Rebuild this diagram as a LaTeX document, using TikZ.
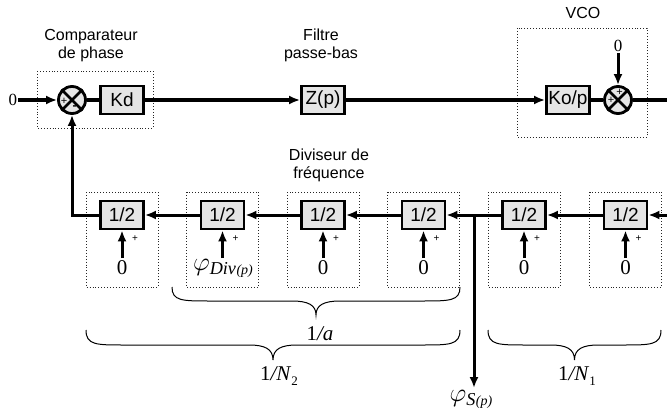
\documentclass[tikz,border=0pt]{standalone}
\usepackage{fontspec}
\usepackage{fix-cm}
\setmainfont{Liberation Serif}
\newfontfamily\lsans{Liberation Sans}
\usetikzlibrary{arrows.meta,calc}
\newcommand{\drawbrace}[4]{%
  \draw[brc] ({#1},{#3}) .. controls ({#1},{(#3+#4)/2}) and ({#1+10},{(#3+#4)/2}) .. ({#1+38},{(#3+#4)/2})
    -- ({(#1+#2)/2-24},{(#3+#4)/2}) .. controls ({(#1+#2)/2-8},{(#3+#4)/2}) and ({(#1+#2)/2},{(#3+#4)/2+4}) .. ({(#1+#2)/2},{#4})
    .. controls ({(#1+#2)/2},{(#3+#4)/2+4}) and ({(#1+#2)/2+8},{(#3+#4)/2}) .. ({(#1+#2)/2+24},{(#3+#4)/2})
    -- ({#2-38},{(#3+#4)/2}) .. controls ({#2-10},{(#3+#4)/2}) and ({#2},{(#3+#4)/2}) .. ({#2},{#3});}
\begin{document}
\begin{tikzpicture}[x=1pt,y=-1pt,
  blk/.style={draw,line width=2.8pt,fill=black!10,minimum width=43pt,minimum height=28pt,inner sep=0pt,font=\lsans\fontsize{19}{21}\selectfont},
  sumc/.style={draw,circle,line width=2.8pt,fill=black!10,minimum size=27pt,inner sep=0pt},
  xline/.style={line width=2.8pt},
  wire/.style={line width=3pt},
  arr/.style={wire,-{Latex[length=11pt,width=9pt]}},
  grp/.style={draw,dotted,line width=0.9pt,black!85},
  lbl/.style={font=\lsans\fontsize{16}{18}\selectfont,align=center},
  zero/.style={font=\fontsize{17}{18}\selectfont,inner sep=1pt},
  zerob/.style={font=\fontsize{21}{22}\selectfont,inner sep=1pt},
  sgn/.style={font=\lsans\fontsize{11}{11}\selectfont,inner sep=0pt},
  bsgn/.style={font=\lsans\fontsize{10}{10}\selectfont,inner sep=0pt},
  brc/.style={line width=1pt},
  frac/.style={font=\fontsize{21}{22}\selectfont,inner sep=1pt}
]
\useasboundingbox (0,0) rectangle (667,412);

% group boxes
\draw[grp] (37,71) rectangle (153,128);
\draw[grp] (517,28) rectangle (647,137);
\foreach \x in {122,222.5,323,423.5,524,625.5}{
  \draw[grp] (\x-36,192) rectangle (\x+36,287);
}

% labels
\node[lbl] (lcmp) at (91,46) {Comparateur\\de phase};
\node[lbl] (lfil) at (321,45) {Filtre\\passe-bas};
\node[lbl] (lvco) at (583,13) {VCO};
\node[lbl] (ldiv) at (329,165) {Diviseur de\\fr\'equence};

% top row
\node[zero] (in0) at (13,100) {0};
\node[sumc] (cmp) at (72,100) {};
\draw[xline] (cmp.north west) -- (cmp.south east) (cmp.north east) -- (cmp.south west);
\node[blk] (kd) at (122,100) {Kd};
\node[blk] (zp) at (323,100) {Z(p)};
\node[blk] (ko) at (568,100) {Ko/p};
\node[sumc] (vs) at (618,100) {};
\draw[xline] (vs.north west) -- (vs.south east) (vs.north east) -- (vs.south west);
\node[zero] (v0) at (618,46) {0};
\coordinate (outR) at (667,100);

\draw[arr] (in0) -- (cmp);
\draw[wire] (cmp) -- (kd);
\draw[arr] (kd) -- (zp);
\draw[arr] (zp) -- (ko);
\draw[wire] (ko) -- (vs);
\draw[wire] (vs) -- (outR);
\draw[arr] (v0) -- (vs);
\node[sgn] (cp) at (64,101) {+};
\node[sgn,font=\lsans\bfseries\fontsize{12}{12}\selectfont] (cm) at (74.5,108) {-};
\node[sgn] (vp1) at (619.5,92.5) {+};
\node[sgn] (vp2) at (611,100) {+};

% bottom row
\foreach \x/\n in {122/b1,222.5/b2,323/b3,423.5/b4,524/b5,625.5/b6}{
  \node[blk] (\n) at (\x,215) {1/2};
  \coordinate (\n s) at (\x,258);
  \node[bsgn] (\n p) at (\x+13,239) {+};
  \draw[arr] (\n s) -- (\n);
}
\foreach \x/\n in {122/b1,323/b3,423.5/b4,524/b5,625.5/b6}{
  \node[zerob] (\n z) at (\x,268) {0};
}
\node[inner sep=1pt] (b2z) at (223,268) {\fontsize{26}{26}\selectfont$\varphi_{\mathit{Div}}$\fontsize{14}{14}\selectfont\raisebox{-4pt}{\textit{(p)}}};

\coordinate (inB) at (667,215);
\coordinate (br) at (474,215);
\coordinate (fb) at (72,215);
\node[inner sep=1pt] (phs) at (471,399) {\fontsize{26}{26}\selectfont$\varphi_{\mathit{S}}$\fontsize{14}{14}\selectfont\raisebox{-4pt}{\textit{(p)}}};
\coordinate (phsT) at (474,388);

\draw[arr] (inB) -- (b6);
\draw[arr] (b6) -- (b5);
\draw[arr] (b5) -- (b4);
\draw[arr] (b4) -- (b3);
\draw[arr] (b3) -- (b2);
\draw[arr] (b2) -- (b1);
\draw[arr] (b1.west) -- (fb) -- (cmp.south);
\draw[arr] (br) -- (phsT);

% braces
\drawbrace{172}{460}{287}{315}
\drawbrace{86}{460}{330}{360}
\drawbrace{488}{661}{330}{360}
\node[frac] (la) at (320,334) {1\textit{/a}};
\node[frac] (ln2) at (279,376) {1\textit{/N}\raisebox{-5pt}{\fontsize{13}{13}\selectfont 2}};
\node[frac] (ln1) at (577,376) {1\textit{/N}\raisebox{-5pt}{\fontsize{13}{13}\selectfont 1}};
\end{tikzpicture}
\end{document}
